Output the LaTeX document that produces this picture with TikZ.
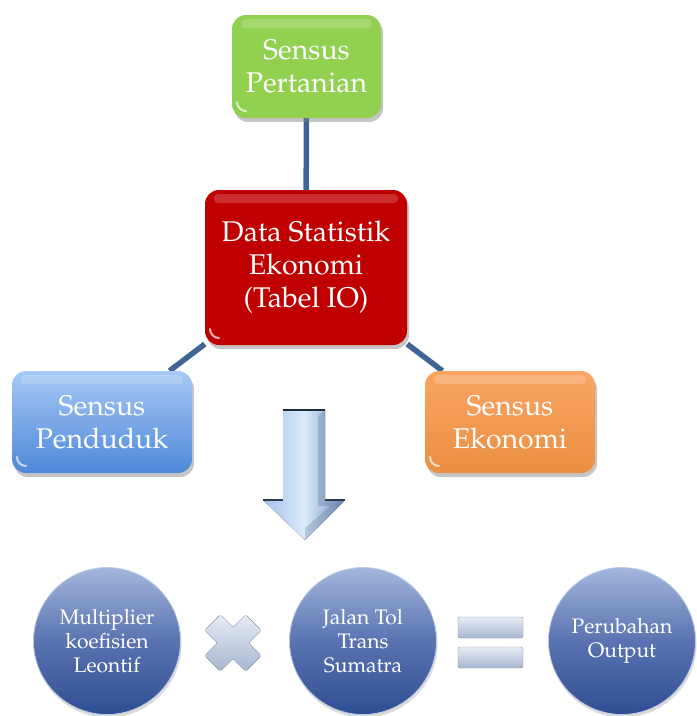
\documentclass[tikz,border=0pt]{standalone}
\usepackage[T1]{fontenc}
\usepackage{mathpazo}
\usetikzlibrary{shadows,backgrounds,calc}

\definecolor{linkblue}{HTML}{3E6596}
\definecolor{pgreen}{HTML}{92D050}
\definecolor{pred}{HTML}{C00000}
\definecolor{porange}{HTML}{F79646}
\definecolor{pbluetop}{HTML}{A6C9F5}
\definecolor{pbluebot}{HTML}{4E88D8}
\definecolor{orbtop}{HTML}{A4B6DD}
\definecolor{orbmid}{HTML}{5A73B0}
\definecolor{orbbot}{HTML}{2F4E93}
\definecolor{arrowlt}{HTML}{A3C3EC}
\definecolor{arrowhi}{HTML}{DCEAFB}
\definecolor{arrowdk}{HTML}{6F90BE}
\definecolor{signtop}{HTML}{E6ECF5}
\definecolor{signbot}{HTML}{A7B6D0}

\tikzset{
  glossbox/.style={rectangle, rounded corners=14pt, inner sep=0pt,
    text=white, align=center, font=\fontsize{28.5}{33}\selectfont,
    drop shadow={shadow xshift=2pt, shadow yshift=-4pt, fill=black!50, opacity=0.45},
    path picture={
      \fill[white, opacity=0.18, rounded corners=4pt]
        ($(path picture bounding box.north west)+(9pt,-4pt)$) rectangle
        ($(path picture bounding box.north east)+(-9pt,-13pt)$);
      \draw[white, opacity=0.7, line width=2pt, line cap=round]
        ($(path picture bounding box.south west)+(5pt,16pt)$)
        arc[start angle=180, end angle=270, radius=9pt];
    }},
  orb/.style={circle, minimum size=147pt, inner sep=0pt, text=white,
    align=center, font=\fontsize{21}{24}\selectfont,
    top color=orbtop, bottom color=orbbot, middle color=orbmid,
    draw=orbtop!70, line width=0.8pt,
    drop shadow={shadow xshift=1pt, shadow yshift=-3pt, fill=black!40, opacity=0.35}},
  link/.style={line width=5.5pt, draw=linkblue},
  signfill/.style={top color=signtop, bottom color=signbot, draw=signbot!80!black, line width=0.4pt},
}

\begin{document}
\begin{tikzpicture}[x=1pt, y=-1pt]
\useasboundingbox (0,0) rectangle (697,716);

% census boxes around the central data box
\node[glossbox, fill=pgreen, minimum width=149pt, minimum height=103pt]
  (tani) at (306.5,66.5) {Sensus\\Pertanian};
\node[glossbox, fill=pred, minimum width=202pt, minimum height=155pt]
  (data) at (306,267.5) {Data Statistik\\Ekonomi\\(Tabel IO)};
\node[glossbox, top color=pbluetop, bottom color=pbluebot, minimum width=180pt, minimum height=102pt]
  (pend) at (102,422) {Sensus\\Penduduk};
\node[glossbox, top color=porange!85!white, bottom color=porange!95!black, minimum width=170pt, minimum height=102pt]
  (ekon) at (510,422) {Sensus\\Ekonomi};

% block arrow pointing down to the equation
\fill[left color=arrowlt, right color=arrowdk, middle color=arrowhi]
  (283,410) -- (325,410) -- (325,500) -- (345,500) -- (305,540)
  -- (263,500) -- (283,500) -- cycle;
\fill[arrowdk!70!black, opacity=0.25]
  (318,416) -- (325,410) -- (325,500) -- (345,500) -- (305,540) -- (305,528) -- (330,506) -- (318,506) -- cycle;
\draw[black!70!arrowdk, line width=1.6pt] (283,410) -- (325,410);
\draw[black!60!arrowdk, line width=1.2pt] (263,500) -- (283,500) (325,500) -- (345,500);

% equation: multiplier x project = output change
\node[orb] (mult) at (107,641) {Multiplier\\koefisien\\Leontif};
\node[orb] (tol) at (363,641) {Jalan Tol\\Trans\\Sumatra};
\node[orb] (out) at (622,641) {Perubahan\\Output};

\begin{scope}[shift={(233,643)}, rotate=45]
  \draw[signfill, rounded corners=1.5pt]
    (29,11) -- (11,11) -- (11,29) -- (-11,29) -- (-11,11) -- (-29,11)
    -- (-29,-11) -- (-11,-11) -- (-11,-29) -- (11,-29) -- (11,-11)
    -- (29,-11) -- cycle;
\end{scope}
\draw[signfill, rounded corners=2pt] (458,617) rectangle (523,638);
\draw[signfill, rounded corners=2pt] (458,647) rectangle (523,668);

\begin{pgfonlayer}{background}
  \fill[white] (0,0) rectangle (697,716);
  \draw[link] (tani) -- (data);
  \draw[link] (data) -- (pend);
  \draw[link] (data) -- (ekon);
\end{pgfonlayer}
\end{tikzpicture}
\end{document}
